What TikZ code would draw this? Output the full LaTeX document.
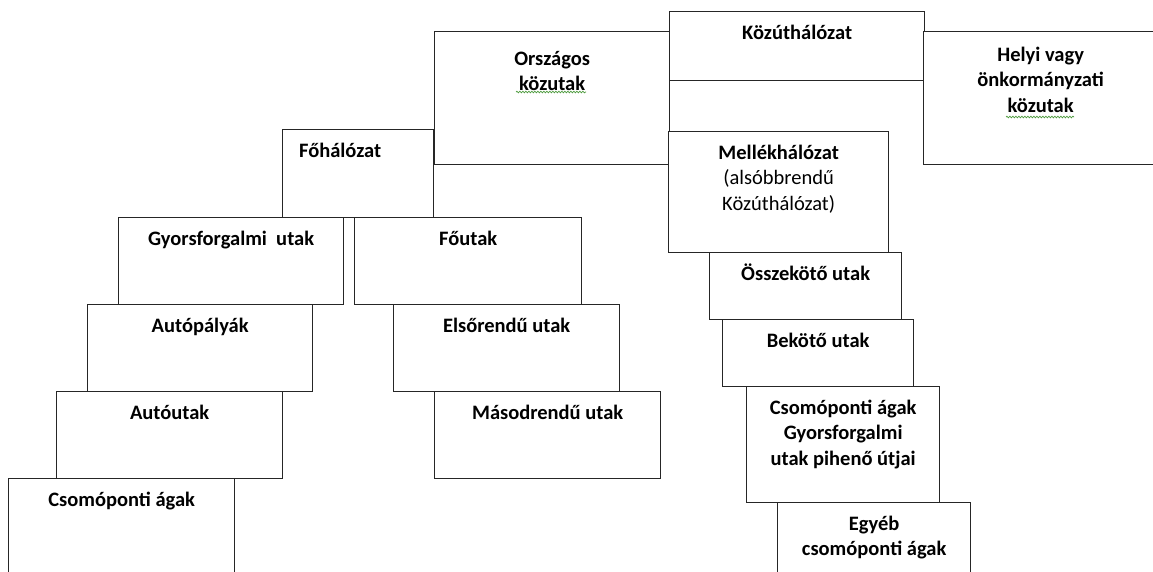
\documentclass[tikz,border=0pt]{standalone}
\usepackage{fontspec}
\setmainfont{Carlito}
\usepackage{xcolor}
\usepackage{tikz}
\usetikzlibrary{decorations.pathmorphing}
\definecolor{edgec}{HTML}{262626}
\definecolor{spell}{HTML}{4C9A3C}
\tikzset{
  rbox/.style={draw=edgec, fill=white, line width=1.3pt, anchor=north west, inner sep=0pt},
  rtxt/.style={anchor=north, align=center, inner sep=0pt, text=black,
    font=\bfseries\fontsize{20.5}{25.5}\selectfont},
  squiggle/.style={draw=spell, line width=0.7pt, decorate,
    decoration={snake, amplitude=0.8pt, segment length=3pt}},
}
\newcommand{\topstrut}{\rule{0pt}{17pt}}
\newcommand{\rbox}[7][]{%
  \node[rbox, minimum width=#5pt, minimum height=#6pt] (#2) at (#3,#4) {};
  \node[rtxt, #1] (#2-t) at ([yshift=-11pt]#2.north) {\topstrut#7};}

\begin{document}
\begin{tikzpicture}[x=1pt,y=-1pt]
  \useasboundingbox (0,0) rectangle (1153,571);
  \clip (0,0) rectangle (1153,571);
  \rbox[yshift=-6pt]{ors}{434}{31}{235}{133}{Országos\\közutak}
  \rbox{kozut}{669}{11}{255}{69}{Közúthálózat}
  \rbox[yshift=-2pt]{helyi}{923}{31}{234}{133}{Helyi vagy\\önkormányzati\\közutak}
  \rbox[xshift=-18pt]{fo}{282}{129}{151}{88}{Főhálózat}
  \rbox{gyors}{118}{217}{225}{87}{Gyorsforgalmi\ \ utak}
  \rbox{foutak}{354}{217}{227}{87}{Főutak}
  \rbox{autop}{87}{304}{225}{87}{Autópályák}
  \rbox{elso}{393}{304}{226}{87}{Elsőrendű utak}
  \rbox{autout}{56}{391}{226}{87}{Autóutak}
  \rbox{maso}{434}{391}{226}{87}{Másodrendű utak}
  \rbox{csl}{8}{478}{226}{100}{Csomóponti ágak}
  \rbox{mellek}{668}{131}{220}{121}{Mellékhálózat\\{\mdseries (alsóbbrendű}\\{\mdseries Közúthálózat)}}
  \rbox{ossze}{709}{252}{192}{67}{Összekötő utak}
  \rbox{bekoto}{722}{319}{191}{67}{Bekötő utak}
  \rbox{csr}{746}{386}{193}{116}{Csomóponti ágak\\Gyorsforgalmi\\utak pihenő útjai}
  \rbox{egyeb}{777}{502}{193}{80}{Egyéb\\csomóponti ágak}
  \draw[squiggle] ([shift={(82,61)}]ors.north west) -- ([shift={(152,61)}]ors.north west);
  \draw[squiggle] ([shift={(83,86)}]helyi.north west) -- ([shift={(151,86)}]helyi.north west);
\end{tikzpicture}
\end{document}
